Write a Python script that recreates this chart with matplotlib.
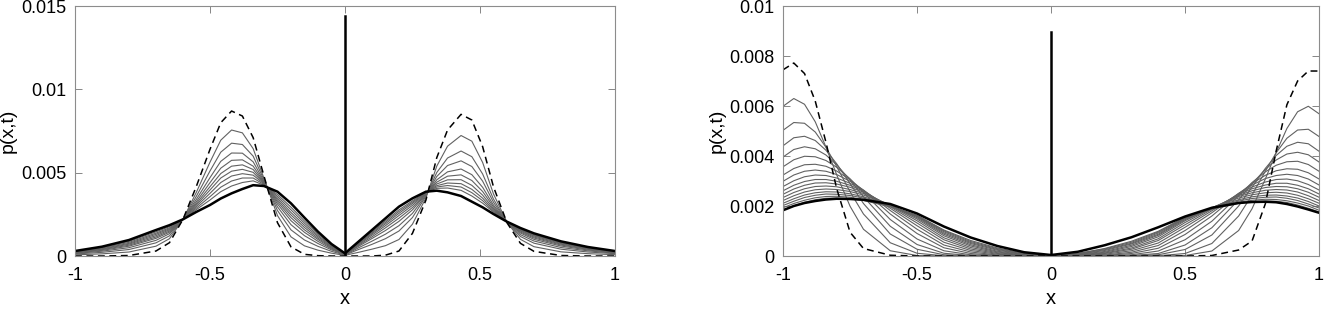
import numpy as np
import matplotlib
matplotlib.use("Agg")
import matplotlib.pyplot as plt

plt.rcParams['font.family'] = ['Liberation Sans', 'DejaVu Sans']

# all densities below are in units of 1e-3
unit = 1e-3

# ---------- left panel ----------
xl = [-1, -0.9, -0.8, -0.7, -0.65, -0.6, -0.55, -0.5, -0.46, -0.42, -0.38, -0.34, -0.3, -0.25,
      -0.2, -0.15, -0.1, -0.05, 0, 0.05, 0.1, 0.15, 0.2, 0.25, 0.3, 0.34, 0.38, 0.43, 0.47,
      0.51, 0.55, 0.6, 0.65, 0.7, 0.8, 0.9, 1]

start_l = [0, 0, 0.03, 0.3, 0.8, 2.2, 4.2, 6.4, 8.0, 8.7, 8.4, 7.1, 4.8, 2.0, 0.55, 0.1, 0.02, 0, 0,
           0, 0, 0.05, 0.3, 1.36, 3.36, 5.9, 7.56, 8.5, 8.16, 6.56, 4.16, 2.0, 0.76, 0.28, 0.03, 0, 0]

end_l = [0.30, 0.56, 0.96, 1.56, 1.85, 2.2, 2.65, 3.06, 3.45, 3.76, 4.02, 4.25, 4.2, 3.86, 3.16, 2.3,
         1.46, 0.72, 0.16,
         0.86, 1.56, 2.26, 2.96, 3.46, 3.86, 3.92, 3.82, 3.6, 3.26, 2.92, 2.52, 2.06, 1.68, 1.36,
         0.88, 0.54, 0.3]

mid_l = [
    [0.07, 0.13, 0.24, 0.59, 1.04, 2.2, 3.84, 5.63, 6.95, 7.56, 7.39, 6.44, 4.66, 2.43, 1.15, 0.61, 0.35, 0.17, 0.04,
     0.22, 0.41, 0.62, 0.99, 1.91, 3.49, 5.39, 6.59, 7.23, 6.89, 5.61, 3.73, 2.02, 1.0, 0.56, 0.25, 0.14, 0.08],
    [0.12, 0.22, 0.39, 0.79, 1.21, 2.2, 3.60, 5.10, 6.23, 6.77, 6.69, 5.99, 4.57, 2.73, 1.57, 0.96, 0.58, 0.28, 0.06,
     0.39, 0.70, 1.04, 1.50, 2.31, 3.59, 5.01, 5.88, 6.30, 5.96, 4.92, 3.42, 2.03, 1.17, 0.77, 0.41, 0.24, 0.14],
    [0.15, 0.29, 0.50, 0.94, 1.34, 2.2, 3.41, 4.70, 5.68, 6.18, 6.17, 5.65, 4.49, 2.95, 1.88, 1.22, 0.75, 0.37, 0.08,
     0.49, 0.89, 1.31, 1.82, 2.56, 3.65, 4.77, 5.43, 5.71, 5.37, 4.49, 3.23, 2.03, 1.28, 0.90, 0.51, 0.31, 0.17],
    [0.18, 0.34, 0.59, 1.06, 1.43, 2.2, 3.27, 4.40, 5.27, 5.74, 5.77, 5.39, 4.44, 3.12, 2.12, 1.42, 0.88, 0.43, 0.10,
     0.58, 1.05, 1.53, 2.08, 2.77, 3.70, 4.57, 5.05, 5.22, 4.88, 4.12, 3.06, 2.04, 1.38, 1.00, 0.60, 0.36, 0.20],
    [0.20, 0.38, 0.65, 1.14, 1.50, 2.2, 3.16, 4.16, 4.95, 5.39, 5.47, 5.19, 4.40, 3.25, 2.30, 1.57, 0.99, 0.48, 0.11,
     0.64, 1.15, 1.69, 2.27, 2.91, 3.73, 4.43, 4.79, 4.87, 4.53, 3.87, 2.95, 2.04, 1.44, 1.08, 0.66, 0.40, 0.22],
    [0.22, 0.41, 0.71, 1.22, 1.57, 2.2, 3.07, 3.96, 4.68, 5.09, 5.20, 5.02, 4.36, 3.36, 2.46, 1.71, 1.07, 0.53, 0.12,
     0.69, 1.25, 1.82, 2.43, 3.04, 3.76, 4.32, 4.57, 4.58, 4.24, 3.65, 2.85, 2.05, 1.50, 1.14, 0.71, 0.43, 0.24],
    [0.24, 0.44, 0.76, 1.30, 1.63, 2.2, 2.98, 3.76, 4.41, 4.80, 4.94, 4.85, 4.33, 3.47, 2.61, 1.84, 1.16, 0.57, 0.13,
     0.73, 1.33, 1.93, 2.56, 3.15, 3.79, 4.22, 4.38, 4.34, 4.00, 3.47, 2.77, 2.05, 1.54, 1.20, 0.75, 0.46, 0.26],
    [0.26, 0.48, 0.82, 1.37, 1.69, 2.2, 2.88, 3.56, 4.13, 4.50, 4.68, 4.68, 4.29, 3.58, 2.77, 1.97, 1.24, 0.61, 0.14,
     0.77, 1.39, 2.02, 2.67, 3.23, 3.81, 4.14, 4.23, 4.14, 3.80, 3.32, 2.70, 2.05, 1.58, 1.24, 0.79, 0.48, 0.27],
    [0.27, 0.51, 0.88, 1.45, 1.76, 2.2, 2.79, 3.36, 3.86, 4.20, 4.41, 4.51, 4.25, 3.69, 2.93, 2.10, 1.33, 0.66, 0.15,
     0.80, 1.45, 2.11, 2.77, 3.31, 3.83, 4.06, 4.08, 3.94, 3.60, 3.17, 2.64, 2.06, 1.62, 1.28, 0.82, 0.50, 0.28],
]
spike_l = 14.4

# ---------- right panel ----------
xr = [-1, -0.96, -0.92, -0.88, -0.84, -0.8, -0.75, -0.7, -0.6, -0.5, -0.4, -0.3, -0.2, -0.1, 0,
      0.1, 0.2, 0.3, 0.4, 0.5, 0.6, 0.7, 0.75, 0.8, 0.84, 0.88, 0.92, 0.96, 1]

start_r = [7.45, 7.72, 7.3, 6.2, 4.55, 2.7, 0.95, 0.3, 0.03, 0, 0, 0, 0, 0, 0,
           0, 0, 0, 0, 0, 0.02, 0.24, 0.6, 2.1, 4.2, 6.05, 7.0, 7.4, 7.4]

end_r = [1.83, 2.0, 2.12, 2.2, 2.26, 2.29, 2.28, 2.25, 2.08, 1.7, 1.18, 0.74, 0.4, 0.15, 0.04,
         0.17, 0.43, 0.75, 1.15, 1.58, 1.93, 2.12, 2.16, 2.17, 2.15, 2.08, 1.98, 1.86, 1.73]

mid_r = [
    [5.99, 6.30, 6.07, 5.37, 4.36, 3.25, 1.99, 1.07, 0.21, 0.02, 0, 0, 0, 0, 0,
     0, 0, 0, 0, 0.02, 0.20, 1.02, 1.89, 3.09, 4.14, 5.10, 5.77, 5.99, 5.69],
    [5.03, 5.34, 5.31, 4.96, 4.35, 3.58, 2.57, 1.68, 0.53, 0.11, 0.01, 0, 0, 0, 0,
     0, 0, 0, 0.01, 0.10, 0.50, 1.60, 2.44, 3.40, 4.13, 4.71, 5.04, 5.07, 4.78],
    [4.41, 4.73, 4.79, 4.62, 4.23, 3.69, 2.90, 2.10, 0.88, 0.27, 0.05, 0.01, 0, 0, 0,
     0, 0, 0.01, 0.05, 0.26, 0.84, 2.00, 2.76, 3.51, 4.02, 4.39, 4.55, 4.49, 4.19],
    [3.96, 4.26, 4.37, 4.29, 4.04, 3.65, 3.04, 2.37, 1.19, 0.46, 0.11, 0.02, 0, 0, 0,
     0, 0, 0.02, 0.10, 0.44, 1.13, 2.25, 2.89, 3.47, 3.84, 4.08, 4.15, 4.05, 3.76],
    [3.57, 3.85, 3.99, 3.97, 3.82, 3.55, 3.09, 2.54, 1.46, 0.68, 0.21, 0.05, 0.01, 0, 0,
     0, 0.01, 0.05, 0.20, 0.65, 1.39, 2.41, 2.94, 3.37, 3.63, 3.77, 3.79, 3.66, 3.39],
    [3.24, 3.50, 3.65, 3.67, 3.59, 3.40, 3.05, 2.62, 1.68, 0.90, 0.33, 0.10, 0.02, 0, 0,
     0, 0.02, 0.10, 0.31, 0.86, 1.60, 2.49, 2.90, 3.23, 3.41, 3.49, 3.47, 3.33, 3.08],
    [2.99, 3.24, 3.39, 3.44, 3.39, 3.26, 2.99, 2.64, 1.82, 1.07, 0.44, 0.16, 0.04, 0.01, 0,
     0.01, 0.04, 0.15, 0.42, 1.02, 1.73, 2.51, 2.84, 3.10, 3.22, 3.27, 3.22, 3.08, 2.84],
    [2.78, 3.01, 3.17, 3.24, 3.22, 3.12, 2.91, 2.62, 1.91, 1.21, 0.55, 0.22, 0.07, 0.01, 0,
     0.01, 0.07, 0.21, 0.52, 1.15, 1.81, 2.49, 2.76, 2.96, 3.06, 3.08, 3.01, 2.86, 2.64],
    [2.61, 2.83, 2.98, 3.06, 3.06, 2.99, 2.83, 2.59, 1.97, 1.32, 0.65, 0.28, 0.10, 0.02, 0,
     0.02, 0.10, 0.27, 0.62, 1.25, 1.87, 2.46, 2.69, 2.84, 2.91, 2.91, 2.83, 2.69, 2.48],
    [2.47, 2.68, 2.83, 2.92, 2.93, 2.88, 2.75, 2.55, 2.01, 1.41, 0.73, 0.34, 0.13, 0.03, 0,
     0.03, 0.12, 0.32, 0.69, 1.34, 1.91, 2.42, 2.61, 2.74, 2.78, 2.77, 2.69, 2.55, 2.35],
    [2.34, 2.54, 2.69, 2.78, 2.80, 2.77, 2.66, 2.50, 2.03, 1.48, 0.81, 0.40, 0.16, 0.04, 0,
     0.04, 0.15, 0.38, 0.77, 1.41, 1.93, 2.38, 2.53, 2.63, 2.66, 2.64, 2.56, 2.41, 2.22],
    [2.22, 2.41, 2.56, 2.65, 2.68, 2.66, 2.58, 2.44, 2.03, 1.53, 0.87, 0.45, 0.19, 0.06, 0.01,
     0.06, 0.18, 0.43, 0.83, 1.45, 1.93, 2.32, 2.45, 2.53, 2.55, 2.52, 2.43, 2.29, 2.11],
    [2.11, 2.29, 2.44, 2.53, 2.57, 2.56, 2.49, 2.37, 2.02, 1.57, 0.92, 0.50, 0.23, 0.07, 0.01,
     0.07, 0.22, 0.48, 0.87, 1.49, 1.92, 2.25, 2.37, 2.43, 2.44, 2.40, 2.32, 2.18, 2.00],
    [2.02, 2.19, 2.34, 2.43, 2.48, 2.47, 2.42, 2.32, 2.01, 1.59, 0.97, 0.54, 0.26, 0.08, 0.01,
     0.08, 0.25, 0.51, 0.92, 1.51, 1.91, 2.20, 2.30, 2.35, 2.36, 2.31, 2.22, 2.08, 1.92],
    [1.93, 2.10, 2.23, 2.33, 2.38, 2.39, 2.35, 2.26, 1.99, 1.61, 1.01, 0.58, 0.29, 0.10, 0.01,
     0.10, 0.28, 0.55, 0.96, 1.53, 1.89, 2.15, 2.23, 2.27, 2.26, 2.21, 2.12, 2.00, 1.83],
    [1.85, 2.01, 2.15, 2.25, 2.31, 2.32, 2.29, 2.22, 1.97, 1.63, 1.04, 0.62, 0.32, 0.11, 0.01,
     0.10, 0.30, 0.59, 0.99, 1.55, 1.87, 2.11, 2.18, 2.20, 2.19, 2.14, 2.04, 1.91, 1.76],
]
spike_r = 8.95

xticks = [-1, -0.5, 0, 0.5, 1]
xtick_labels = ['-1', '-0.5', '0', '0.5', '1']
yticks_l = [0, 0.005, 0.01, 0.015]
ytick_labels_l = ['0', '0.005', '0.01', '0.015']
yticks_r = [0, 0.002, 0.004, 0.006, 0.008, 0.01]
ytick_labels_r = ['0', '0.002', '0.004', '0.006', '0.008', '0.01']

fig = plt.figure(figsize=(13.25, 3.09), dpi=100)
ax1 = fig.add_axes([0.0566, 0.1715, 0.4075, 0.809])
ax2 = fig.add_axes([0.591, 0.1715, 0.4045, 0.809])


def draw(ax, x, start, mids, end, spike, yticks, ylabels):
    for m in mids:
        ax.plot(x, np.array(m) * unit, color='0.38', lw=0.8)
    ax.plot(x, np.array(end) * unit, color='black', lw=1.8)
    ax.plot(x, np.array(start) * unit, color='black', lw=1.1, dashes=(4.5, 3))
    ax.plot([0, 0], [0, spike * unit], color='black', lw=1.8)
    ax.set_xlim(-1, 1)
    ax.set_ylim(yticks[0], yticks[-1])
    ax.set_xticks(xticks)
    ax.set_xticklabels(xtick_labels)
    ax.set_yticks(yticks)
    ax.set_yticklabels(ylabels)
    ax.tick_params(direction='in', length=5, width=0.6, color='0.45', top=True, right=True,
                   labelsize=13)
    ax.tick_params(axis='x', pad=8)
    ax.tick_params(axis='y', pad=6)
    for s in ax.spines.values():
        s.set_color('0.55')
        s.set_linewidth(0.8)
    ax.set_xlabel('x', fontsize=14.5)
    ax.set_ylabel('p(x,t)', fontsize=14)
    ax.xaxis.set_label_coords(0.5, -0.13)
    ax.yaxis.set_label_coords(-0.108, 0.5)


draw(ax1, xl, start_l, mid_l, end_l, spike_l, yticks_l, ytick_labels_l)
draw(ax2, xr, start_r, mid_r, end_r, spike_r, yticks_r, ytick_labels_r)

fig.savefig('out.png', dpi=100)
